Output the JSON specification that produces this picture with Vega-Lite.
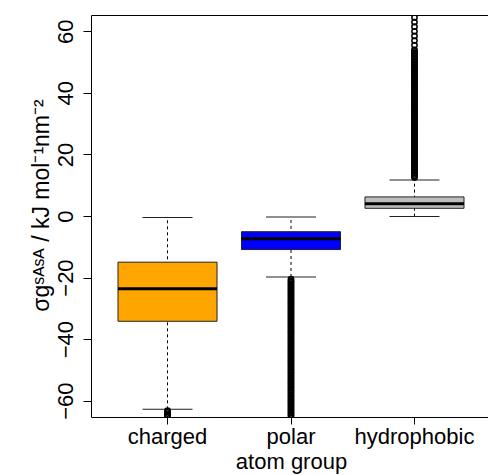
{
  "$schema": "https://vega.github.io/schema/vega-lite/v6.json",
  "width": 400,
  "height": 402,
  "autosize": "none",
  "padding": {"left": 91, "top": 15, "right": -3, "bottom": 58},
  "background": "white",
  "config": {
    "font": "Liberation Sans",
    "view": {"stroke": "black", "strokeWidth": 1}
  },
  "datasets": {
    "stats": [
      {"group": "charged", "lower": -62.8, "q1": -34.2, "median": -23.6, "q3": -15.0, "upper": -0.5},
      {"group": "polar", "lower": -19.8, "q1": -10.9, "median": -7.4, "q3": -5.1, "upper": -0.3},
      {"group": "hydrophobic", "lower": -0.2, "q1": 2.5, "median": 4.0, "q3": 6.2, "upper": 11.7}
    ],
    "outliers": [
      {"group": "charged", "value": -63.2}, {"group": "charged", "value": -63.7}, {"group": "charged", "value": -64.2}, {"group": "charged", "value": -64.7}, {"group": "charged", "value": -65.2},
      {"group": "polar", "value": -20.5}, {"group": "polar", "value": -21}, {"group": "polar", "value": -21.5}, {"group": "polar", "value": -22}, {"group": "polar", "value": -22.5}, {"group": "polar", "value": -23}, {"group": "polar", "value": -23.5}, {"group": "polar", "value": -24}, {"group": "polar", "value": -24.5}, {"group": "polar", "value": -25},
      {"group": "polar", "value": -25.5}, {"group": "polar", "value": -26}, {"group": "polar", "value": -26.5}, {"group": "polar", "value": -27}, {"group": "polar", "value": -27.5}, {"group": "polar", "value": -28}, {"group": "polar", "value": -28.5}, {"group": "polar", "value": -29}, {"group": "polar", "value": -29.5}, {"group": "polar", "value": -30},
      {"group": "polar", "value": -30.5}, {"group": "polar", "value": -31}, {"group": "polar", "value": -31.5}, {"group": "polar", "value": -32}, {"group": "polar", "value": -32.5}, {"group": "polar", "value": -33}, {"group": "polar", "value": -33.5}, {"group": "polar", "value": -34}, {"group": "polar", "value": -34.5}, {"group": "polar", "value": -35},
      {"group": "polar", "value": -35.5}, {"group": "polar", "value": -36}, {"group": "polar", "value": -36.5}, {"group": "polar", "value": -37}, {"group": "polar", "value": -37.5}, {"group": "polar", "value": -38}, {"group": "polar", "value": -38.5}, {"group": "polar", "value": -39}, {"group": "polar", "value": -39.5}, {"group": "polar", "value": -40},
      {"group": "polar", "value": -40.5}, {"group": "polar", "value": -41}, {"group": "polar", "value": -41.5}, {"group": "polar", "value": -42}, {"group": "polar", "value": -42.5}, {"group": "polar", "value": -43}, {"group": "polar", "value": -43.5}, {"group": "polar", "value": -44}, {"group": "polar", "value": -44.5}, {"group": "polar", "value": -45},
      {"group": "polar", "value": -45.5}, {"group": "polar", "value": -46}, {"group": "polar", "value": -46.5}, {"group": "polar", "value": -47}, {"group": "polar", "value": -47.5}, {"group": "polar", "value": -48}, {"group": "polar", "value": -48.5}, {"group": "polar", "value": -49}, {"group": "polar", "value": -49.5}, {"group": "polar", "value": -50},
      {"group": "polar", "value": -50.5}, {"group": "polar", "value": -51}, {"group": "polar", "value": -51.5}, {"group": "polar", "value": -52}, {"group": "polar", "value": -52.5}, {"group": "polar", "value": -53}, {"group": "polar", "value": -53.5}, {"group": "polar", "value": -54}, {"group": "polar", "value": -54.5}, {"group": "polar", "value": -55},
      {"group": "polar", "value": -55.5}, {"group": "polar", "value": -56}, {"group": "polar", "value": -56.5}, {"group": "polar", "value": -57}, {"group": "polar", "value": -57.5}, {"group": "polar", "value": -58}, {"group": "polar", "value": -58.5}, {"group": "polar", "value": -59}, {"group": "polar", "value": -59.5}, {"group": "polar", "value": -60},
      {"group": "polar", "value": -60.5}, {"group": "polar", "value": -61}, {"group": "polar", "value": -61.5}, {"group": "polar", "value": -62}, {"group": "polar", "value": -62.5}, {"group": "polar", "value": -63}, {"group": "polar", "value": -63.5}, {"group": "polar", "value": -64}, {"group": "polar", "value": -64.5}, {"group": "polar", "value": -65},
      {"group": "hydrophobic", "value": 12.5}, {"group": "hydrophobic", "value": 13}, {"group": "hydrophobic", "value": 13.5}, {"group": "hydrophobic", "value": 14}, {"group": "hydrophobic", "value": 14.5}, {"group": "hydrophobic", "value": 15}, {"group": "hydrophobic", "value": 15.5}, {"group": "hydrophobic", "value": 16}, {"group": "hydrophobic", "value": 16.5}, {"group": "hydrophobic", "value": 17},
      {"group": "hydrophobic", "value": 17.5}, {"group": "hydrophobic", "value": 18}, {"group": "hydrophobic", "value": 18.5}, {"group": "hydrophobic", "value": 19}, {"group": "hydrophobic", "value": 19.5}, {"group": "hydrophobic", "value": 20}, {"group": "hydrophobic", "value": 20.5}, {"group": "hydrophobic", "value": 21}, {"group": "hydrophobic", "value": 21.5}, {"group": "hydrophobic", "value": 22},
      {"group": "hydrophobic", "value": 22.5}, {"group": "hydrophobic", "value": 23}, {"group": "hydrophobic", "value": 23.5}, {"group": "hydrophobic", "value": 24}, {"group": "hydrophobic", "value": 24.5}, {"group": "hydrophobic", "value": 25}, {"group": "hydrophobic", "value": 25.5}, {"group": "hydrophobic", "value": 26}, {"group": "hydrophobic", "value": 26.5}, {"group": "hydrophobic", "value": 27},
      {"group": "hydrophobic", "value": 27.5}, {"group": "hydrophobic", "value": 28}, {"group": "hydrophobic", "value": 28.5}, {"group": "hydrophobic", "value": 29}, {"group": "hydrophobic", "value": 29.5}, {"group": "hydrophobic", "value": 30}, {"group": "hydrophobic", "value": 30.5}, {"group": "hydrophobic", "value": 31}, {"group": "hydrophobic", "value": 31.5}, {"group": "hydrophobic", "value": 32},
      {"group": "hydrophobic", "value": 32.5}, {"group": "hydrophobic", "value": 33}, {"group": "hydrophobic", "value": 33.5}, {"group": "hydrophobic", "value": 34}, {"group": "hydrophobic", "value": 34.5}, {"group": "hydrophobic", "value": 35}, {"group": "hydrophobic", "value": 35.5}, {"group": "hydrophobic", "value": 36}, {"group": "hydrophobic", "value": 36.5}, {"group": "hydrophobic", "value": 37},
      {"group": "hydrophobic", "value": 37.5}, {"group": "hydrophobic", "value": 38}, {"group": "hydrophobic", "value": 38.5}, {"group": "hydrophobic", "value": 39}, {"group": "hydrophobic", "value": 39.5}, {"group": "hydrophobic", "value": 40}, {"group": "hydrophobic", "value": 40.5}, {"group": "hydrophobic", "value": 41}, {"group": "hydrophobic", "value": 41.5}, {"group": "hydrophobic", "value": 42},
      {"group": "hydrophobic", "value": 42.5}, {"group": "hydrophobic", "value": 43}, {"group": "hydrophobic", "value": 43.5}, {"group": "hydrophobic", "value": 44}, {"group": "hydrophobic", "value": 44.5}, {"group": "hydrophobic", "value": 45}, {"group": "hydrophobic", "value": 45.5}, {"group": "hydrophobic", "value": 46}, {"group": "hydrophobic", "value": 46.5}, {"group": "hydrophobic", "value": 47},
      {"group": "hydrophobic", "value": 47.5}, {"group": "hydrophobic", "value": 48}, {"group": "hydrophobic", "value": 48.5}, {"group": "hydrophobic", "value": 49}, {"group": "hydrophobic", "value": 49.5}, {"group": "hydrophobic", "value": 50}, {"group": "hydrophobic", "value": 50.5}, {"group": "hydrophobic", "value": 51}, {"group": "hydrophobic", "value": 51.5}, {"group": "hydrophobic", "value": 52},
      {"group": "hydrophobic", "value": 52.5}, {"group": "hydrophobic", "value": 53}, {"group": "hydrophobic", "value": 53.5}, {"group": "hydrophobic", "value": 54},
      {"group": "hydrophobic", "value": 55.5}, {"group": "hydrophobic", "value": 57}, {"group": "hydrophobic", "value": 58.5}, {"group": "hydrophobic", "value": 60}, {"group": "hydrophobic", "value": 61.5}, {"group": "hydrophobic", "value": 63}, {"group": "hydrophobic", "value": 64.5}
    ]
  },
  "encoding": {
    "x": {
      "field": "group",
      "type": "nominal",
      "sort": ["charged", "polar", "hydrophobic"],
      "scale": {"domain": ["charged", "polar", "hydrophobic"], "paddingInner": 0.198, "paddingOuter": 0.2186},
      "axis": {
        "title": "atom group",
        "titleFontSize": 22,
        "titleFontWeight": "normal",
        "titleColor": "black",
        "titleX": 200,
        "titleY": 51,
        "titleAlign": "center",
        "titleBaseline": "alphabetic",
        "labelAngle": 0,
        "labelFontSize": 22,
        "labelColor": "black",
        "labelPadding": 2,
        "tickSize": 7,
        "tickColor": "black",
        "domain": false,
        "grid": false
      }
    }
  },
  "layer": [
    {
      "data": {"name": "stats"},
      "mark": {"type": "rule", "color": "black", "strokeWidth": 1, "strokeDash": [3, 3]},
      "encoding": {
        "y": {
          "field": "lower",
          "type": "quantitative",
          "scale": {"domain": [-65.3, 65.3], "nice": false, "zero": false},
          "axis": {
            "title": "σgˢᴬˢᴬ / kJ mol⁻¹nm⁻²",
            "titleFontSize": 23,
            "titleFontWeight": "normal",
            "titleColor": "black",
            "titleAngle": 270,
            "titleX": -43,
            "titleY": 190,
            "titleAlign": "center",
            "titleBaseline": "alphabetic",
            "values": [-60, -40, -20, 0, 20, 40, 60],
            "labelAngle": 270,
            "labelAlign": "center",
            "labelBaseline": "bottom",
            "labelFontSize": 22,
            "labelColor": "black",
            "labelPadding": 6,
            "tickSize": 8,
            "tickColor": "black",
            "domain": false,
            "grid": false
          }
        },
        "y2": {"field": "upper"}
      }
    },
    {
      "data": {"name": "stats"},
      "mark": {"type": "bar", "stroke": "#222222", "strokeWidth": 1},
      "encoding": {
        "y": {"field": "q1", "type": "quantitative"},
        "y2": {"field": "q3"},
        "color": {
          "field": "group",
          "type": "nominal",
          "scale": {"domain": ["charged", "polar", "hydrophobic"], "range": ["#FFA500", "#0000FF", "#BEBEBE"]},
          "legend": null
        }
      }
    },
    {
      "data": {"name": "stats"},
      "mark": {"type": "tick", "size": 99, "thickness": 3, "color": "black", "opacity": 1},
      "encoding": {
        "y": {"field": "median", "type": "quantitative"}
      }
    },
    {
      "data": {"name": "stats"},
      "mark": {"type": "tick", "size": 50, "thickness": 1, "color": "#222222", "opacity": 1},
      "encoding": {
        "y": {"field": "lower", "type": "quantitative"}
      }
    },
    {
      "data": {"name": "stats"},
      "mark": {"type": "tick", "size": 50, "thickness": 1, "color": "#222222", "opacity": 1},
      "encoding": {
        "y": {"field": "upper", "type": "quantitative"}
      }
    },
    {
      "data": {"name": "outliers"},
      "mark": {"type": "point", "shape": "circle", "filled": false, "color": "black", "strokeWidth": 1.5, "size": 28, "opacity": 1, "clip": true},
      "encoding": {
        "y": {"field": "value", "type": "quantitative"}
      }
    }
  ]
}
